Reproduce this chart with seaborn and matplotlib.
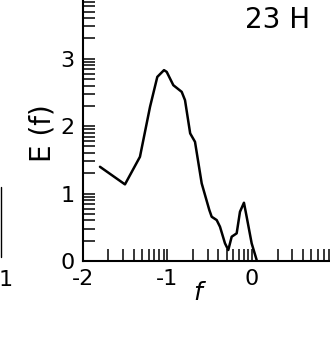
import numpy as np
import matplotlib
matplotlib.use("Agg")
import matplotlib.pyplot as plt
import seaborn as sns
import pandas as pd

# curve: log f vs E(f)
f_vals = [-1.796, -1.501, -1.324, -1.205, -1.119, -1.040, -1.008, -0.930, -0.831,
          -0.792, -0.731, -0.674, -0.595, -0.505, -0.477, -0.418, -0.379, -0.320,
          -0.281, -0.241, -0.182, -0.143, -0.096, -0.064, -0.005, 0.054]
E_vals = [1.397, 1.136, 1.545, 2.286, 2.730, 2.830, 2.804, 2.607, 2.508,
          2.385, 1.892, 1.767, 1.151, 0.756, 0.656, 0.607, 0.508, 0.262,
          0.163, 0.360, 0.410, 0.730, 0.864, 0.656, 0.262, 0.015]

x_major = [-2, -1, 0]
y_major = [0, 1, 2, 3]
panel_label = "23 H"

df = pd.DataFrame({"f": f_vals, "E": E_vals})

sns.set_style("white")
plt.rcParams["font.family"] = ["DejaVu Sans"]
plt.rcParams["text.color"] = "black"
plt.rcParams["xtick.color"] = "black"
plt.rcParams["ytick.color"] = "black"

fig = plt.figure(figsize=(3.30, 3.38), dpi=100)
ax = fig.add_axes([82.7 / 330, 77 / 338, (330 - 82.7) / 330, 261 / 338])

sns.lineplot(data=df, x="f", y="E", sort=False, color="black", linewidth=1.8, ax=ax)

ax.set_xlim(-2, 0.92)
ax.set_ylim(0, 3.87)

# log-style minor ticks between the decades
steps = np.log10(np.arange(2, 10))
x_minor = [n + s for n in x_major for s in steps if n + s < 0.92]
y_minor = [n + s for n in y_major for s in steps if n + s < 3.87]

ax.set_xticks(x_major)
ax.set_xticklabels(["-2", "-1", "0"])
ax.set_yticks(y_major)
ax.set_yticklabels(["0", "1", "2", "3"])
ax.set_xticks(x_minor, minor=True)
ax.set_yticks(y_minor, minor=True)
ax.tick_params(which="both", bottom=True, left=True, direction="in",
               length=8.5, width=1.1, color="black", labelcolor="black")
ax.tick_params(axis="x", which="major", labelsize=16, pad=6)
ax.tick_params(axis="y", which="major", labelsize=16, pad=6)

for side in ["top", "right"]:
    ax.spines[side].set_visible(False)
for side in ["left", "bottom"]:
    ax.spines[side].set_linewidth(1.5)
    ax.spines[side].set_color("black")

ax.set_xlabel("")
ax.set_ylabel("")
fig.text(198 / 330, 1 - 293 / 338, "f", fontsize=18, style="italic",
         ha="center", va="center")
fig.text(43 / 330, 1 - 133 / 338, "E (f)", fontsize=20, rotation=90,
         ha="center", va="center")
fig.text(278 / 330, 1 - 20 / 338, panel_label, fontsize=20,
         ha="center", va="center")

# edge of the neighbouring panel on the left
fig.text(6 / 330, 1 - 280 / 338, "1", fontsize=16, ha="center", va="center")
fig.add_artist(plt.Line2D([1 / 330, 1 / 330], [1 - 257 / 338, 1 - 187 / 338],
                          color="black", linewidth=1.0))

fig.savefig("out.png", dpi=100, facecolor="white")
